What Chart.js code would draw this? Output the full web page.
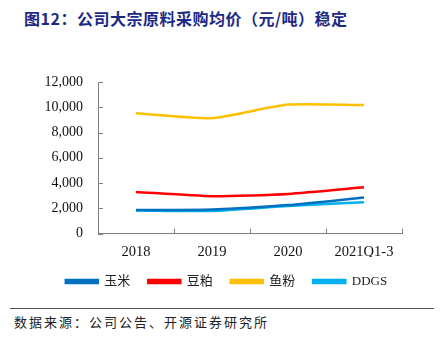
<!DOCTYPE html>
<html><head><meta charset="utf-8">
<script src="https://cdn.jsdelivr.net/npm/chart.js@4/dist/chart.umd.min.js"></script>
<style>
html,body{margin:0;padding:0;background:#fff;width:441px;height:342px;overflow:hidden;position:relative}
#title{position:absolute;left:24px;top:6px;font:bold 16px "Noto Sans CJK SC",sans-serif;color:#1c2a84;white-space:nowrap;letter-spacing:0.5px}
#wrap{position:absolute;left:0;top:0;width:441px;height:298px}
#sep{position:absolute;left:10px;width:424px;top:308px;height:0;border-top:1px solid #555}
#src{position:absolute;left:14px;top:312px;font:13px "Noto Sans CJK SC",sans-serif;color:#222;letter-spacing:2px;white-space:nowrap}
</style></head><body>
<div id="title">图12：公司大宗原料采购均价（元/吨）稳定</div>
<div id="wrap"><canvas id="c"></canvas></div>
<div id="sep"></div>
<div id="src">数据来源：公司公告、开源证券研究所</div>
<script>
const categories = ['2018','2019','2020','2021Q1-3'];
const corn = [1870, 1910, 2260, 2860];
const soyMeal = [3300, 2960, 3140, 3660];
const fishMeal = [9530, 9140, 10210, 10180];
const ddgs = [1830, 1790, 2180, 2490];
const seriesNames = ['玉米','豆粕','鱼粉','DDGS'];
const yTicks = [0,2000,4000,6000,8000,10000,12000];

const serif = '"Liberation Serif","Times New Roman",serif';
const innerTicks = {
  id:'innerTicks',
  afterDraw(chart){
    const ctx=chart.ctx, x=chart.scales.x, y=chart.scales.y;
    ctx.save(); ctx.strokeStyle='#808080'; ctx.lineWidth=1;
    const n=categories.length, w=(x.right-x.left)/n;
    for(let i=1;i<=n;i++){const px=Math.round(x.left+i*w)+0.5;ctx.beginPath();ctx.moveTo(px,x.top);ctx.lineTo(px,x.top-5);ctx.stroke();}
    y.ticks.forEach((t,i)=>{const py=Math.round(y.getPixelForTick(i))+0.5;ctx.beginPath();ctx.moveTo(y.right,py);ctx.lineTo(y.right+5,py);ctx.stroke();});
    ctx.restore();
  }
};
const mk=(label,data,color)=>({label,data,borderColor:color,backgroundColor:color,borderWidth:2.5,pointRadius:0,tension:0.2,fill:false});
new Chart(document.getElementById('c'),{
  type:'line',
  data:{labels:categories,datasets:[
    mk(seriesNames[0],corn,'#0070c0'),
    mk(seriesNames[1],soyMeal,'#ff0000'),
    mk(seriesNames[2],fishMeal,'#ffc000'),
    mk(seriesNames[3],ddgs,'#00b0f0')
  ]},
  options:{
    responsive:true,maintainAspectRatio:false,animation:false,
    layout:{padding:{left:12,right:0,top:82,bottom:0}},
    plugins:{
      tooltip:{enabled:false},
      legend:{position:'bottom',labels:{boxWidth:32,boxHeight:3,padding:18,color:'#222',font:{family:serif+',"Noto Sans CJK SC"',size:13}}}
    },
    scales:{
      x:{offset:true,grid:{display:false},border:{display:true,color:'#808080'},
         afterFit:s=>{s.height=s.height-6;},
         ticks:{color:'#111',font:{family:serif,size:14.5},padding:2,maxRotation:0}},
      y:{min:0,max:12000,afterBuildTicks:s=>{s.ticks=yTicks.map(v=>({value:v}));},
         afterFit:s=>{s.width=86;},
         grid:{display:false},border:{display:true,color:'#808080'},
         ticks:{color:'#111',font:{family:serif,size:14},padding:7,callback:v=>v.toLocaleString('en-US')}},
      r:{position:'right',type:'linear',display:true,afterFit:s=>{s.width=39;},
         grid:{display:false},border:{display:false},ticks:{display:false}}
    }
  },
  plugins:[innerTicks]
});
</script></body></html>
